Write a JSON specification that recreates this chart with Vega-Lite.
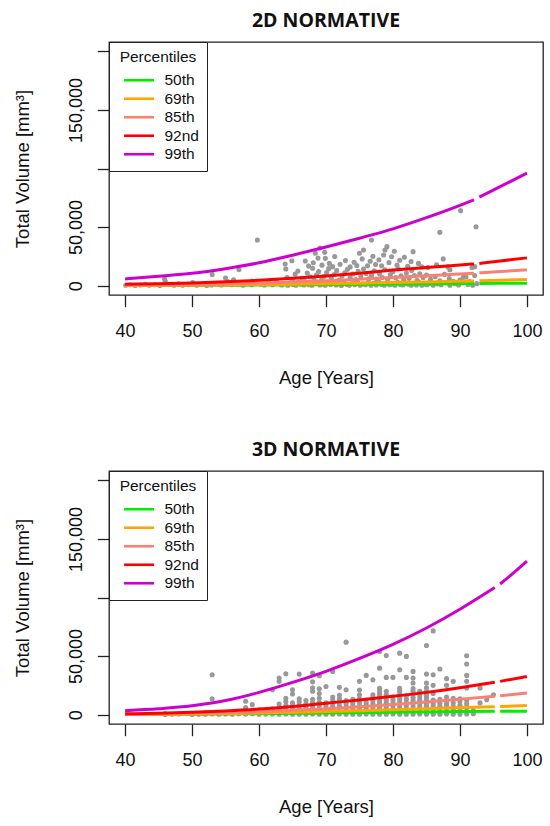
{
  "$schema": "https://vega.github.io/schema/vega-lite/v6.json",
  "padding": {"top": 10, "left": 12, "right": 4, "bottom": 4},
  "spacing": 51,
  "config": {
    "font": "Liberation Sans",
    "view": {"stroke": "#222", "strokeWidth": 1.3},
    "axis": {"domain": false, "grid": false, "tickColor": "#222", "tickWidth": 1.3, "tickSize": 11.7,
      "labelFont": "Liberation Sans", "labelFontSize": 18, "labelColor": "#111", "labelFlush": false, "labelOverlap": false,
      "titleFont": "Liberation Sans", "titleFontSize": 18.5, "titleFontWeight": "normal", "titleColor": "#111"},
    "axisX": {"labelPadding": 15.3, "titlePadding": 28},
    "axisY": {"labelAngle": -90, "labelAlign": "center", "labelBaseline": "bottom", "labelPadding": 12.2, "titlePadding": 35},
    "title": {"font": "Open Sans", "fontSize": 19.5, "fontWeight": "bold", "anchor": "middle", "frame": "group", "offset": 10, "color": "#111"},
    "legend": {"orient": "top-left", "offset": 0, "padding": 8, "strokeColor": "#222", "fillColor": "white",
      "titleFont": "Liberation Sans", "titleFontSize": 15.5, "titleFontWeight": "normal", "titleColor": "#111", "titlePadding": 7, "titleAnchor": "middle",
      "labelFont": "Liberation Sans", "labelFontSize": 15.5, "labelColor": "#111", "labelOffset": 17.6,
      "symbolType": "M-2.5,0H2.5", "symbolSize": 144, "symbolStrokeWidth": 2.6, "symbolOffset": 14.3, "rowPadding": 1.5}
  },
  "resolve": {"scale": {"color": "independent", "x": "independent", "y": "independent"}, "legend": {"color": "independent"}},
  "datasets": {
    "pts2d": [
      {"age":40.1,"vol":300},{"age":40.8,"vol":800},{"age":41.5,"vol":200},{"age":42.3,"vol":500},{"age":43.0,"vol":1200},{"age":43.6,"vol":300},{"age":44.4,"vol":700},{"age":45.2,"vol":200},{"age":45.9,"vol":5700},{"age":46.0,"vol":3800},{"age":46.5,"vol":900},{"age":47.3,"vol":400},{"age":48.0,"vol":1500},{"age":48.6,"vol":300},{"age":49.5,"vol":700},{"age":50.1,"vol":2600},{"age":50.7,"vol":400},{"age":51.5,"vol":1100},{"age":52.2,"vol":200},{"age":52.9,"vol":600},{"age":53.0,"vol":9400},{"age":53.7,"vol":1800},{"age":54.4,"vol":500},{"age":55.0,"vol":6500},{"age":55.3,"vol":3500},{"age":55.9,"vol":900},{"age":56.2,"vol":5000},{"age":56.8,"vol":1700},{"age":57.0,"vol":13700},{"age":57.6,"vol":400},{"age":58.2,"vol":2400},{"age":58.9,"vol":800},{"age":59.0,"vol":3800},{"age":59.75,"vol":39000},{"age":60.3,"vol":1300},{"age":60.8,"vol":500},{"age":61.4,"vol":2900},{"age":62.0,"vol":800},{"age":62.6,"vol":4200},{"age":63.1,"vol":1500},
      {"age":63.4,"vol":600},{"age":63.9,"vol":1800},{"age":64.3,"vol":300},{"age":64.7,"vol":2500},{"age":65.1,"vol":900},{"age":65.5,"vol":400},{"age":65.9,"vol":3100},{"age":66.3,"vol":1200},{"age":66.7,"vol":500},{"age":67.1,"vol":2200},{"age":67.5,"vol":800},{"age":67.9,"vol":300},{"age":68.3,"vol":1600},{"age":68.7,"vol":2900},{"age":69.1,"vol":600},{"age":69.5,"vol":1300},{"age":69.9,"vol":300},{"age":70.3,"vol":2400},{"age":70.7,"vol":900},{"age":71.1,"vol":3300},{"age":71.5,"vol":500},{"age":71.9,"vol":1700},{"age":72.3,"vol":200},{"age":72.7,"vol":2600},{"age":73.1,"vol":1100},{"age":73.5,"vol":400},{"age":73.9,"vol":2000},{"age":74.3,"vol":700},{"age":74.7,"vol":3200},{"age":75.1,"vol":300},{"age":75.5,"vol":1500},{"age":75.9,"vol":800},{"age":76.3,"vol":2700},{"age":76.7,"vol":400},{"age":77.1,"vol":1900},{"age":77.5,"vol":600},{"age":77.9,"vol":3000},{"age":78.3,"vol":1000},{"age":78.7,"vol":300},{"age":79.1,"vol":2300},{"age":79.5,"vol":700},{"age":79.9,"vol":1400},{"age":80.3,"vol":300},{"age":80.7,"vol":2800},{"age":81.1,"vol":900},{"age":81.5,"vol":500},{"age":81.9,"vol":2100},{"age":82.3,"vol":1200},{"age":82.7,"vol":300},{"age":83.1,"vol":1700},{"age":83.5,"vol":600},{"age":83.9,"vol":2600},{"age":84.3,"vol":300},{"age":84.7,"vol":1300},{"age":85.1,"vol":700},{"age":85.5,"vol":2000},{"age":86.0,"vol":400},{"age":86.6,"vol":1500},{"age":87.2,"vol":700},{"age":87.9,"vol":2400},{"age":88.5,"vol":400},{"age":89.2,"vol":1800},{"age":89.8,"vol":600},{"age":90.5,"vol":2900},{"age":91.2,"vol":1000},{"age":91.9,"vol":300},{"age":92.5,"vol":1700},
      {"age":64.0,"vol":14200},{"age":64.2,"vol":7000},{"age":65.0,"vol":5200},{"age":65.4,"vol":9800},{"age":65.8,"vol":12500},{"age":66.4,"vol":6300},{"age":66.8,"vol":4000},{"age":67.2,"vol":10800},{"age":67.6,"vol":7500},{"age":68.0,"vol":14800},{"age":68.2,"vol":5600},{"age":68.6,"vol":9200},{"age":68.9,"vol":12000},{"age":69.3,"vol":4500},{"age":69.7,"vol":7800},{"age":70.1,"vol":11200},{"age":70.4,"vol":14500},{"age":70.8,"vol":6000},{"age":71.2,"vol":9500},{"age":71.6,"vol":12800},{"age":72.0,"vol":4800},{"age":72.4,"vol":8200},{"age":72.8,"vol":11000},{"age":73.2,"vol":13900},{"age":73.6,"vol":6600},{"age":74.0,"vol":9900},{"age":74.4,"vol":5200},{"age":74.8,"vol":12300},{"age":75.2,"vol":7700},{"age":75.6,"vol":14100},{"age":76.0,"vol":10300},{"age":76.4,"vol":5900},{"age":76.8,"vol":8800},{"age":77.2,"vol":12600},{"age":77.6,"vol":4300},{"age":78.0,"vol":10100},{"age":78.4,"vol":7000},{"age":78.8,"vol":13500},{"age":79.2,"vol":5400},{"age":79.6,"vol":9400},{"age":80.0,"vol":11800},{"age":80.4,"vol":6800},{"age":80.8,"vol":14400},{"age":81.2,"vol":8300},{"age":81.6,"vol":4900},{"age":82.0,"vol":10700},{"age":82.4,"vol":6200},{"age":82.8,"vol":12900},{"age":83.2,"vol":8700},{"age":83.6,"vol":4600},{"age":84.0,"vol":10200},{"age":84.5,"vol":6900},{"age":85.0,"vol":9000},{"age":85.6,"vol":5300},{"age":86.3,"vol":7600},{"age":87.0,"vol":4200},{"age":87.7,"vol":9600},{"age":88.4,"vol":6000},{"age":89.0,"vol":3600},{"age":90.0,"vol":4800},{"age":90.9,"vol":7400},{"age":91.4,"vol":3500},{"age":92.2,"vol":8700},
      {"age":63.9,"vol":18500},{"age":64.9,"vol":21300},{"age":66.9,"vol":21000},{"age":67.4,"vol":16800},{"age":68.1,"vol":19500},{"age":68.4,"vol":27600},{"age":68.8,"vol":23500},{"age":69.1,"vol":32100},{"age":69.4,"vol":17500},{"age":69.8,"vol":28400},{"age":69.9,"vol":23300},{"age":70.5,"vol":19000},{"age":71.0,"vol":16200},{"age":71.3,"vol":24800},{"age":72.1,"vol":18300},{"age":72.9,"vol":21500},{"age":73.6,"vol":16000},{"age":74.2,"vol":19900},{"age":74.6,"vol":17200},{"age":75.0,"vol":27600},{"age":75.4,"vol":22800},{"age":75.6,"vol":30400},{"age":76.2,"vol":16900},{"age":76.6,"vol":20800},{"age":77.0,"vol":25000},{"age":77.4,"vol":18000},{"age":77.9,"vol":22000},{"age":78.3,"vol":17000},{"age":78.6,"vol":26200},{"age":78.8,"vol":30400},{"age":79.1,"vol":33300},{"age":79.4,"vol":19800},{"age":79.8,"vol":24600},{"age":80.2,"vol":29300},{"age":80.6,"vol":17500},{"age":81.0,"vol":21700},{"age":81.7,"vol":24200},{"age":82.2,"vol":16500},{"age":82.7,"vol":20500},{"age":83.0,"vol":29000},{"age":83.8,"vol":19000},{"age":84.3,"vol":16000},{"age":85.2,"vol":15500},{"age":86.5,"vol":17800},{"age":87.5,"vol":22800},{"age":88.2,"vol":16000},{"age":91.8,"vol":15500},{"age":92.2,"vol":16200},{"age":90.5,"vol":7100},{"age":89.3,"vol":1700},{"age":88.5,"vol":13600},
      {"age":76.8,"vol":39000},{"age":87.0,"vol":45500},{"age":90.1,"vol":64000},{"age":92.4,"vol":50300}
    ],
    "pts3d": [
      {"age":46,"vol":200},{"age":46,"vol":900},{"age":47,"vol":300},{"age":48,"vol":500},{"age":50,"vol":200},{"age":50,"vol":1000},{"age":51,"vol":400},{"age":52,"vol":300},{"age":52,"vol":1500},
      {"age":53,"vol":500},{"age":53,"vol":13600},{"age":53,"vol":34100},{"age":54,"vol":300},{"age":54,"vol":1200},{"age":55,"vol":600},{"age":55,"vol":2000},{"age":56,"vol":300},{"age":56,"vol":1500},{"age":57,"vol":800},{"age":57,"vol":2500},
      {"age":58,"vol":500},{"age":58,"vol":3000},{"age":58,"vol":6000},{"age":58,"vol":11400},{"age":59,"vol":700},{"age":59,"vol":2500},{"age":59,"vol":8500},{"age":60,"vol":400},{"age":60,"vol":2000},{"age":60,"vol":4000},{"age":61,"vol":600},{"age":61,"vol":3000},
      {"age":62,"vol":500},{"age":62,"vol":2500},{"age":62,"vol":5000},{"age":62,"vol":21300},
      {"age":63,"vol":300},{"age":63,"vol":2000},{"age":63,"vol":4000},{"age":63,"vol":6500},{"age":63,"vol":9000},{"age":63,"vol":28400},{"age":63,"vol":31200},
      {"age":64,"vol":500},{"age":64,"vol":2500},{"age":64,"vol":5000},{"age":64,"vol":7500},{"age":64,"vol":11000},{"age":64,"vol":14000},{"age":64,"vol":34900},
      {"age":65,"vol":300},{"age":65,"vol":2000},{"age":65,"vol":4500},{"age":65,"vol":7000},{"age":65,"vol":10000},{"age":65,"vol":17600},{"age":65,"vol":21300},
      {"age":66,"vol":400},{"age":66,"vol":2300},{"age":66,"vol":5000},{"age":66,"vol":8000},{"age":66,"vol":11000},{"age":66,"vol":13500},{"age":66,"vol":34600},
      {"age":67,"vol":300},{"age":67,"vol":2000},{"age":67,"vol":4000},{"age":67,"vol":6500},{"age":67,"vol":9000},{"age":67,"vol":12000},
      {"age":68,"vol":500},{"age":68,"vol":2500},{"age":68,"vol":4500},{"age":68,"vol":7000},{"age":68,"vol":10000},{"age":68,"vol":13000},{"age":68,"vol":20000},{"age":68,"vol":23000},{"age":68,"vol":28000},{"age":68,"vol":35500},
      {"age":69,"vol":300},{"age":69,"vol":2200},{"age":69,"vol":4800},{"age":69,"vol":7500},{"age":69,"vol":10500},{"age":69,"vol":14000},{"age":69,"vol":18000},{"age":69,"vol":22000},{"age":69,"vol":33200},
      {"age":70,"vol":400},{"age":70,"vol":2500},{"age":70,"vol":5000},{"age":70,"vol":7500},{"age":70,"vol":10000},{"age":70,"vol":24000},
      {"age":71,"vol":300},{"age":71,"vol":2000},{"age":71,"vol":4500},{"age":71,"vol":7000},{"age":71,"vol":9500},{"age":71,"vol":12500},{"age":71,"vol":15000},{"age":71,"vol":36900},
      {"age":72,"vol":500},{"age":72,"vol":2500},{"age":72,"vol":5000},{"age":72,"vol":7500},{"age":72,"vol":10500},{"age":72,"vol":13500},{"age":72,"vol":16500},{"age":72,"vol":23300},
      {"age":73,"vol":300},{"age":73,"vol":2000},{"age":73,"vol":4500},{"age":73,"vol":7000},{"age":73,"vol":9500},{"age":73,"vol":12000},{"age":73,"vol":21300},{"age":73,"vol":61900},
      {"age":74,"vol":400},{"age":74,"vol":2500},{"age":74,"vol":5000},{"age":74,"vol":7500},{"age":74,"vol":10000},{"age":74,"vol":13000},
      {"age":75,"vol":300},{"age":75,"vol":2200},{"age":75,"vol":4800},{"age":75,"vol":7500},{"age":75,"vol":10500},{"age":75,"vol":13500},{"age":75,"vol":17000},{"age":75,"vol":21000},{"age":75,"vol":28400},
      {"age":76,"vol":500},{"age":76,"vol":2500},{"age":76,"vol":5000},{"age":76,"vol":7500},{"age":76,"vol":10000},{"age":76,"vol":12500},{"age":76,"vol":33500},
      {"age":77,"vol":300},{"age":77,"vol":2000},{"age":77,"vol":4500},{"age":77,"vol":7000},{"age":77,"vol":9500},{"age":77,"vol":12000},{"age":77,"vol":14500},{"age":77,"vol":17000},{"age":77,"vol":29800},
      {"age":78,"vol":400},{"age":78,"vol":2500},{"age":78,"vol":5000},{"age":78,"vol":7500},{"age":78,"vol":10000},{"age":78,"vol":12500},{"age":78,"vol":15000},{"age":78,"vol":17500},{"age":78,"vol":20000},{"age":78,"vol":22500},{"age":78,"vol":39700},{"age":78,"vol":53900},
      {"age":79,"vol":300},{"age":79,"vol":2200},{"age":79,"vol":4700},{"age":79,"vol":7200},{"age":79,"vol":9700},{"age":79,"vol":12200},{"age":79,"vol":14700},{"age":79,"vol":17200},{"age":79,"vol":20000},{"age":79,"vol":31800},{"age":79,"vol":50500},
      {"age":80,"vol":500},{"age":80,"vol":2500},{"age":80,"vol":5000},{"age":80,"vol":7500},{"age":80,"vol":10000},{"age":80,"vol":12500},{"age":80,"vol":15000},{"age":80,"vol":31800},
      {"age":81,"vol":300},{"age":81,"vol":2000},{"age":81,"vol":4500},{"age":81,"vol":7000},{"age":81,"vol":9500},{"age":81,"vol":12000},{"age":81,"vol":14500},{"age":81,"vol":17000},{"age":81,"vol":20000},{"age":81,"vol":22500},{"age":81,"vol":38300},{"age":81,"vol":52500},
      {"age":82,"vol":400},{"age":82,"vol":2500},{"age":82,"vol":5000},{"age":82,"vol":7500},{"age":82,"vol":10000},{"age":82,"vol":13000},{"age":82,"vol":16000},{"age":82,"vol":31800},{"age":82,"vol":49700},
      {"age":83,"vol":300},{"age":83,"vol":2200},{"age":83,"vol":4700},{"age":83,"vol":7200},{"age":83,"vol":9700},{"age":83,"vol":12200},{"age":83,"vol":14700},{"age":83,"vol":17200},{"age":83,"vol":19700},{"age":83,"vol":22200},{"age":83,"vol":27000},{"age":83,"vol":31200},{"age":83,"vol":36900},
      {"age":84,"vol":500},{"age":84,"vol":2500},{"age":84,"vol":5000},{"age":84,"vol":7500},{"age":84,"vol":10000},{"age":84,"vol":12500},{"age":84,"vol":15000},{"age":84,"vol":17500},{"age":84,"vol":20000},
      {"age":85,"vol":300},{"age":85,"vol":2000},{"age":85,"vol":4500},{"age":85,"vol":7000},{"age":85,"vol":9500},{"age":85,"vol":12000},{"age":85,"vol":14500},{"age":85,"vol":17000},{"age":85,"vol":20000},{"age":85,"vol":23000},{"age":85,"vol":27000},{"age":85,"vol":34600},{"age":85,"vol":59000},
      {"age":86,"vol":400},{"age":86,"vol":2500},{"age":86,"vol":5000},{"age":86,"vol":7500},{"age":86,"vol":10000},{"age":86,"vol":12500},{"age":86,"vol":18000},{"age":86,"vol":25000},{"age":86,"vol":34100},{"age":86,"vol":71500},
      {"age":87,"vol":300},{"age":87,"vol":2200},{"age":87,"vol":4700},{"age":87,"vol":7200},{"age":87,"vol":9700},{"age":87,"vol":13000},{"age":87,"vol":38900},
      {"age":88,"vol":500},{"age":88,"vol":2500},{"age":88,"vol":5000},{"age":88,"vol":7500},{"age":88,"vol":10000},{"age":88,"vol":12500},{"age":88,"vol":15000},{"age":88,"vol":25000},{"age":88,"vol":30700},
      {"age":89,"vol":300},{"age":89,"vol":2000},{"age":89,"vol":4500},{"age":89,"vol":7000},{"age":89,"vol":10000},{"age":89,"vol":14000},{"age":89,"vol":28400},
      {"age":90,"vol":400},{"age":90,"vol":2500},{"age":90,"vol":5000},{"age":90,"vol":8000},{"age":90,"vol":11000},{"age":90,"vol":13500},
      {"age":91,"vol":500},{"age":91,"vol":3000},{"age":91,"vol":6000},{"age":91,"vol":9000},{"age":91,"vol":12000},{"age":91,"vol":22700},{"age":91,"vol":28400},{"age":91,"vol":33500},{"age":91,"vol":43200},{"age":91,"vol":50300},
      {"age":92,"vol":800},{"age":92,"vol":3500},{"age":93,"vol":10000},{"age":93,"vol":22700},{"age":94,"vol":12800},{"age":95,"vol":17000}
    ],
    "curves2d": [
      {"pct":"50th","seg":1,"age":40,"vol":50},{"pct":"50th","seg":1,"age":45,"vol":100},{"pct":"50th","seg":1,"age":50,"vol":200},{"pct":"50th","seg":1,"age":55,"vol":350},{"pct":"50th","seg":1,"age":60,"vol":500},{"pct":"50th","seg":1,"age":65,"vol":700},{"pct":"50th","seg":1,"age":70,"vol":900},{"pct":"50th","seg":1,"age":75,"vol":1100},{"pct":"50th","seg":1,"age":80,"vol":1350},{"pct":"50th","seg":1,"age":85,"vol":1550},{"pct":"50th","seg":1,"age":90,"vol":1750},{"pct":"50th","seg":1,"age":92.1,"vol":1850},
      {"pct":"50th","seg":2,"age":92.9,"vol":1880},{"pct":"50th","seg":2,"age":96,"vol":2000},{"pct":"50th","seg":2,"age":100,"vol":2100},
      {"pct":"69th","seg":1,"age":40,"vol":150},{"pct":"69th","seg":1,"age":45,"vol":250},{"pct":"69th","seg":1,"age":50,"vol":400},{"pct":"69th","seg":1,"age":55,"vol":600},{"pct":"69th","seg":1,"age":60,"vol":900},{"pct":"69th","seg":1,"age":65,"vol":1200},{"pct":"69th","seg":1,"age":70,"vol":1600},{"pct":"69th","seg":1,"age":75,"vol":2100},{"pct":"69th","seg":1,"age":80,"vol":2600},{"pct":"69th","seg":1,"age":85,"vol":3100},{"pct":"69th","seg":1,"age":90,"vol":3700},{"pct":"69th","seg":1,"age":92.1,"vol":4000},
      {"pct":"69th","seg":2,"age":92.9,"vol":4100},{"pct":"69th","seg":2,"age":96,"vol":4600},{"pct":"69th","seg":2,"age":100,"vol":5300},
      {"pct":"85th","seg":1,"age":40,"vol":400},{"pct":"85th","seg":1,"age":45,"vol":600},{"pct":"85th","seg":1,"age":50,"vol":900},{"pct":"85th","seg":1,"age":55,"vol":1400},{"pct":"85th","seg":1,"age":60,"vol":2000},{"pct":"85th","seg":1,"age":65,"vol":3000},{"pct":"85th","seg":1,"age":70,"vol":4200},{"pct":"85th","seg":1,"age":75,"vol":5500},{"pct":"85th","seg":1,"age":80,"vol":7000},{"pct":"85th","seg":1,"age":85,"vol":8500},{"pct":"85th","seg":1,"age":90,"vol":10000},{"pct":"85th","seg":1,"age":92.1,"vol":10600},
      {"pct":"85th","seg":2,"age":92.9,"vol":10900},{"pct":"85th","seg":2,"age":96,"vol":12000},{"pct":"85th","seg":2,"age":100,"vol":13400},
      {"pct":"92nd","seg":1,"age":40,"vol":1200},{"pct":"92nd","seg":1,"age":45,"vol":1700},{"pct":"92nd","seg":1,"age":50,"vol":2300},{"pct":"92nd","seg":1,"age":55,"vol":3300},{"pct":"92nd","seg":1,"age":60,"vol":4600},{"pct":"92nd","seg":1,"age":65,"vol":6300},{"pct":"92nd","seg":1,"age":70,"vol":8300},{"pct":"92nd","seg":1,"age":75,"vol":10600},{"pct":"92nd","seg":1,"age":80,"vol":13300},{"pct":"92nd","seg":1,"age":85,"vol":15500},{"pct":"92nd","seg":1,"age":90,"vol":17600},{"pct":"92nd","seg":1,"age":92.1,"vol":18500},
      {"pct":"92nd","seg":2,"age":92.9,"vol":18900},{"pct":"92nd","seg":2,"age":96,"vol":21000},{"pct":"92nd","seg":2,"age":100,"vol":23700},
      {"pct":"99th","seg":1,"age":40,"vol":5700},{"pct":"99th","seg":1,"age":45,"vol":8000},{"pct":"99th","seg":1,"age":50,"vol":10500},{"pct":"99th","seg":1,"age":55,"vol":14500},{"pct":"99th","seg":1,"age":60,"vol":19500},{"pct":"99th","seg":1,"age":65,"vol":26000},{"pct":"99th","seg":1,"age":70,"vol":33000},{"pct":"99th","seg":1,"age":75,"vol":40500},{"pct":"99th","seg":1,"age":80,"vol":48500},{"pct":"99th","seg":1,"age":85,"vol":58000},{"pct":"99th","seg":1,"age":90,"vol":68500},{"pct":"99th","seg":1,"age":92.1,"vol":73300},
      {"pct":"99th","seg":2,"age":92.9,"vol":75600},{"pct":"99th","seg":2,"age":96,"vol":84500},{"pct":"99th","seg":2,"age":100,"vol":96000}
    ],
    "curves3d": [
      {"pct":"50th","seg":1,"age":40,"vol":100},{"pct":"50th","seg":1,"age":45,"vol":250},{"pct":"50th","seg":1,"age":50,"vol":400},{"pct":"50th","seg":1,"age":55,"vol":600},{"pct":"50th","seg":1,"age":60,"vol":800},{"pct":"50th","seg":1,"age":65,"vol":1100},{"pct":"50th","seg":1,"age":70,"vol":1400},{"pct":"50th","seg":1,"age":75,"vol":1700},{"pct":"50th","seg":1,"age":80,"vol":2000},{"pct":"50th","seg":1,"age":85,"vol":2300},{"pct":"50th","seg":1,"age":90,"vol":2600},{"pct":"50th","seg":1,"age":95.2,"vol":2800},
      {"pct":"50th","seg":2,"age":96,"vol":2820},{"pct":"50th","seg":2,"age":100,"vol":2900},
      {"pct":"69th","seg":1,"age":40,"vol":100},{"pct":"69th","seg":1,"age":45,"vol":250},{"pct":"69th","seg":1,"age":50,"vol":500},{"pct":"69th","seg":1,"age":55,"vol":900},{"pct":"69th","seg":1,"age":60,"vol":1400},{"pct":"69th","seg":1,"age":65,"vol":2000},{"pct":"69th","seg":1,"age":70,"vol":2600},{"pct":"69th","seg":1,"age":75,"vol":3400},{"pct":"69th","seg":1,"age":80,"vol":4200},{"pct":"69th","seg":1,"age":85,"vol":5100},{"pct":"69th","seg":1,"age":90,"vol":6000},{"pct":"69th","seg":1,"age":95.2,"vol":6700},
      {"pct":"69th","seg":2,"age":96,"vol":6900},{"pct":"69th","seg":2,"age":100,"vol":7700},
      {"pct":"85th","seg":1,"age":40,"vol":300},{"pct":"85th","seg":1,"age":45,"vol":600},{"pct":"85th","seg":1,"age":50,"vol":1100},{"pct":"85th","seg":1,"age":55,"vol":1700},{"pct":"85th","seg":1,"age":60,"vol":2400},{"pct":"85th","seg":1,"age":65,"vol":3600},{"pct":"85th","seg":1,"age":70,"vol":5000},{"pct":"85th","seg":1,"age":75,"vol":6700},{"pct":"85th","seg":1,"age":80,"vol":8600},{"pct":"85th","seg":1,"age":85,"vol":10800},{"pct":"85th","seg":1,"age":90,"vol":13200},{"pct":"85th","seg":1,"age":95.2,"vol":15700},
      {"pct":"85th","seg":2,"age":96,"vol":16100},{"pct":"85th","seg":2,"age":100,"vol":18400},
      {"pct":"92nd","seg":1,"age":40,"vol":700},{"pct":"92nd","seg":1,"age":45,"vol":1200},{"pct":"92nd","seg":1,"age":50,"vol":2000},{"pct":"92nd","seg":1,"age":55,"vol":3200},{"pct":"92nd","seg":1,"age":60,"vol":4800},{"pct":"92nd","seg":1,"age":65,"vol":7000},{"pct":"92nd","seg":1,"age":70,"vol":9800},{"pct":"92nd","seg":1,"age":75,"vol":12500},{"pct":"92nd","seg":1,"age":80,"vol":15600},{"pct":"92nd","seg":1,"age":85,"vol":19000},{"pct":"92nd","seg":1,"age":90,"vol":23000},{"pct":"92nd","seg":1,"age":95.2,"vol":27700},
      {"pct":"92nd","seg":2,"age":96,"vol":28400},{"pct":"92nd","seg":2,"age":100,"vol":32600},
      {"pct":"99th","seg":1,"age":40,"vol":3400},{"pct":"99th","seg":1,"age":45,"vol":5000},{"pct":"99th","seg":1,"age":50,"vol":7500},{"pct":"99th","seg":1,"age":55,"vol":12000},{"pct":"99th","seg":1,"age":60,"vol":19000},{"pct":"99th","seg":1,"age":65,"vol":27500},{"pct":"99th","seg":1,"age":70,"vol":37000},{"pct":"99th","seg":1,"age":75,"vol":48000},{"pct":"99th","seg":1,"age":80,"vol":60000},{"pct":"99th","seg":1,"age":85,"vol":74000},{"pct":"99th","seg":1,"age":90,"vol":90000},{"pct":"99th","seg":1,"age":95.2,"vol":108500},
      {"pct":"99th","seg":2,"age":96,"vol":111500},{"pct":"99th","seg":2,"age":98,"vol":121000},{"pct":"99th","seg":2,"age":100,"vol":131000}
    ]
  },
  "vconcat": [
    {
      "title": "2D NORMATIVE",
      "width": 434, "height": 253,
      "layer": [
        {
          "data": {"name": "pts2d"},
          "mark": {"type": "circle", "size": 26, "color": "#999999", "opacity": 1},
          "encoding": {
            "x": {"field": "age", "type": "quantitative", "scale": {"domain": [37.6, 102.4], "nice": false, "zero": false}, "axis": {"title": "Age [Years]", "values": [40,50,60,70,80,90,100], "format": "d"}},
            "y": {"field": "vol", "type": "quantitative", "scale": {"domain": [-8000, 208000], "nice": false, "zero": false}, "axis": {"title": "Total Volume [mm³]", "values": [0,50000,100000,150000,200000], "labelExpr": "datum.value == 100000 || datum.value == 200000 ? '' : format(datum.value, ',')"}}
          }
        },
        {
          "data": {"name": "curves2d"},
          "mark": {"type": "line", "strokeWidth": 3, "interpolate": "monotone"},
          "encoding": {
            "x": {"field": "age", "type": "quantitative"},
            "y": {"field": "vol", "type": "quantitative"},
            "color": {"field": "pct", "type": "nominal", "title": "Percentiles", "scale": {"domain": ["50th","69th","85th","92nd","99th"], "range": ["#00ee00","#ffa500","#fa8072","#ff0000","#cd00cd"]}},
            "detail": {"field": "seg", "type": "nominal"}
          }
        }
      ]
    },
    {
      "title": "3D NORMATIVE",
      "width": 434, "height": 253,
      "layer": [
        {
          "data": {"name": "pts3d"},
          "mark": {"type": "circle", "size": 26, "color": "#999999", "opacity": 1},
          "encoding": {
            "x": {"field": "age", "type": "quantitative", "scale": {"domain": [37.6, 102.4], "nice": false, "zero": false}, "axis": {"title": "Age [Years]", "values": [40,50,60,70,80,90,100], "format": "d"}},
            "y": {"field": "vol", "type": "quantitative", "scale": {"domain": [-8000, 208000], "nice": false, "zero": false}, "axis": {"title": "Total Volume [mm³]", "values": [0,50000,100000,150000,200000], "labelExpr": "datum.value == 100000 || datum.value == 200000 ? '' : format(datum.value, ',')"}}
          }
        },
        {
          "data": {"name": "curves3d"},
          "mark": {"type": "line", "strokeWidth": 3, "interpolate": "monotone"},
          "encoding": {
            "x": {"field": "age", "type": "quantitative"},
            "y": {"field": "vol", "type": "quantitative"},
            "color": {"field": "pct", "type": "nominal", "title": "Percentiles", "scale": {"domain": ["50th","69th","85th","92nd","99th"], "range": ["#00ee00","#ffa500","#fa8072","#ff0000","#cd00cd"]}},
            "detail": {"field": "seg", "type": "nominal"}
          }
        }
      ]
    }
  ]
}
